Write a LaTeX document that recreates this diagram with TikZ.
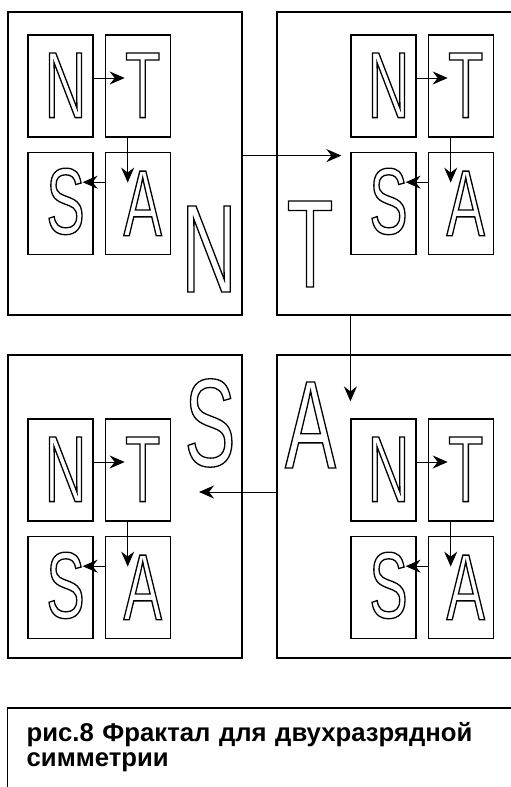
\documentclass[tikz,border=0pt]{standalone}
\usepackage{fontspec}
\setmainfont{Liberation Sans}
\newfontfamily\letterfont[FakeStretch=0.61]{Liberation Sans}
\usetikzlibrary{arrows.meta,positioning,calc}
% outlined (stroked) letters
\newcommand{\hollow}[1]{\special{pdf:literal 1 Tr 1.3 w}#1\special{pdf:literal 0 Tr}}

\begin{document}
\begin{tikzpicture}[
  x=1pt, y=-1pt,
  frame/.style={rectangle, draw, line width=1.4pt, minimum width=234pt, minimum height=303pt, inner sep=0pt},
  cell/.style={rectangle, draw, line width=1.2pt, minimum width=65pt, minimum height=102pt, inner sep=0pt},
  glyph/.style={inner sep=0pt, anchor=base, font=\fontsize{94}{94}\letterfont},
  bigglyph/.style={inner sep=0pt, anchor=base, font=\fontsize{125}{125}\letterfont},
  arrow/.style={-{Stealth[length=15pt,width=13pt,inset=5pt]}, line width=1pt},
  capbox/.style={rectangle, anchor=north west, text width=482pt, inner xsep=19pt, inner ysep=14pt,
    align=left, font=\fontsize{25.7}{25}\selectfont\bfseries}
]
\useasboundingbox (0,0) rectangle (511,787);

% Big frames
\node[frame] (b1) at (125,163.5) {};
\node[frame, minimum width=240pt] (b2) at (397,163.5) {};
\node[frame] (b3) at (125,506.5) {};
\node[frame, minimum width=240pt] (b4) at (397,506.5) {};

% Big letters
\node[bigglyph] (bn) at (209,292) {\hollow{N}};
\node[bigglyph] (bt) at (310,287) {\hollow{T}};
\node[bigglyph] (bs) at (210,466) {\hollow{S}};
\node[bigglyph] (ba) at (310.5,468) {\hollow{A}};

% Frame 1
\node[cell] (n1) at (60.5,86) {};
\node[cell, right=11pt of n1] (t1) {};
\node[cell, below=14pt of n1] (s1) {};
\node[cell, right=11pt of s1] (a1) {};
\node[glyph] (n1l) at ([shift={(5pt,20pt)}]n1.south) {\hollow{N}};
\node[glyph] (t1l) at ([shift={(5pt,20pt)}]t1.south) {\hollow{T}};
\node[glyph] (s1l) at ([shift={(5pt,21pt)}]s1.south) {\hollow{S}};
\node[glyph] (a1l) at ([shift={(5pt,19pt)}]a1.south) {\hollow{A}};

% Frame 2
\node[cell] (n2) at (383.5,86) {};
\node[cell, right=11pt of n2] (t2) {};
\node[cell, below=14pt of n2] (s2) {};
\node[cell, right=11pt of s2] (a2) {};
\node[glyph] (n2l) at ([shift={(5pt,20pt)}]n2.south) {\hollow{N}};
\node[glyph] (t2l) at ([shift={(5pt,20pt)}]t2.south) {\hollow{T}};
\node[glyph] (s2l) at ([shift={(5pt,21pt)}]s2.south) {\hollow{S}};
\node[glyph] (a2l) at ([shift={(5pt,19pt)}]a2.south) {\hollow{A}};

% Frame 3
\node[cell] (n3) at (60.5,470) {};
\node[cell, right=11pt of n3] (t3) {};
\node[cell, below=14pt of n3] (s3) {};
\node[cell, right=11pt of s3] (a3) {};
\node[glyph] (n3l) at ([shift={(5pt,20pt)}]n3.south) {\hollow{N}};
\node[glyph] (t3l) at ([shift={(5pt,20pt)}]t3.south) {\hollow{T}};
\node[glyph] (s3l) at ([shift={(5pt,21pt)}]s3.south) {\hollow{S}};
\node[glyph] (a3l) at ([shift={(5pt,19pt)}]a3.south) {\hollow{A}};

% Frame 4
\node[cell] (n4) at (383.5,470) {};
\node[cell, right=11pt of n4] (t4) {};
\node[cell, below=14pt of n4] (s4) {};
\node[cell, right=11pt of s4] (a4) {};
\node[glyph] (n4l) at ([shift={(5pt,20pt)}]n4.south) {\hollow{N}};
\node[glyph] (t4l) at ([shift={(5pt,20pt)}]t4.south) {\hollow{T}};
\node[glyph] (s4l) at ([shift={(5pt,21pt)}]s4.south) {\hollow{S}};
\node[glyph] (a4l) at ([shift={(5pt,19pt)}]a4.south) {\hollow{A}};

% Inner arrows N -> T -> A -> S
\draw[arrow] ([yshift=8pt]n1.east) -- ([shift={(-13pt,8pt)}]t1.center);
\draw[arrow] ([xshift=-10pt]t1.south) -- ([shift={(-10pt,-45pt)}]t1.south);
\draw[arrow] ([yshift=21pt]a1.west) -- ([shift={(-11pt,21pt)}]s1.east);
\draw[arrow] ([yshift=8pt]n2.east) -- ([shift={(-13pt,8pt)}]t2.center);
\draw[arrow] ([xshift=-10pt]t2.south) -- ([shift={(-10pt,-45pt)}]t2.south);
\draw[arrow] ([yshift=21pt]a2.west) -- ([shift={(-11pt,21pt)}]s2.east);
\draw[arrow] ([yshift=8pt]n3.east) -- ([shift={(-13pt,8pt)}]t3.center);
\draw[arrow] ([xshift=-10pt]t3.south) -- ([shift={(-10pt,-45pt)}]t3.south);
\draw[arrow] ([yshift=21pt]a3.west) -- ([shift={(-11pt,21pt)}]s3.east);
\draw[arrow] ([yshift=8pt]n4.east) -- ([shift={(-13pt,8pt)}]t4.center);
\draw[arrow] ([xshift=-10pt]t4.south) -- ([shift={(-10pt,-45pt)}]t4.south);
\draw[arrow] ([yshift=21pt]a4.west) -- ([shift={(-11pt,21pt)}]s4.east);

% Arrows between frames
\coordinate (in12) at ([shift={(-9pt,-4pt)}]s2.north west);
\coordinate (in24) at ([yshift=17pt]n4.north west);
\coordinate (in43) at (199,492);
\draw[arrow] (b1.east |- in12) -- (in12);
\draw[arrow] (b2.south -| in24) -- (in24);
\draw[arrow] (b4.west |- in43) -- (in43);

% Caption
\node[capbox] (cap) at (7.5,708) {рис.8 Фрактал для двухразрядной\\симметрии};
\draw[line width=1.4pt] (cap.north west) rectangle ++(520,100);
\end{tikzpicture}
\end{document}
